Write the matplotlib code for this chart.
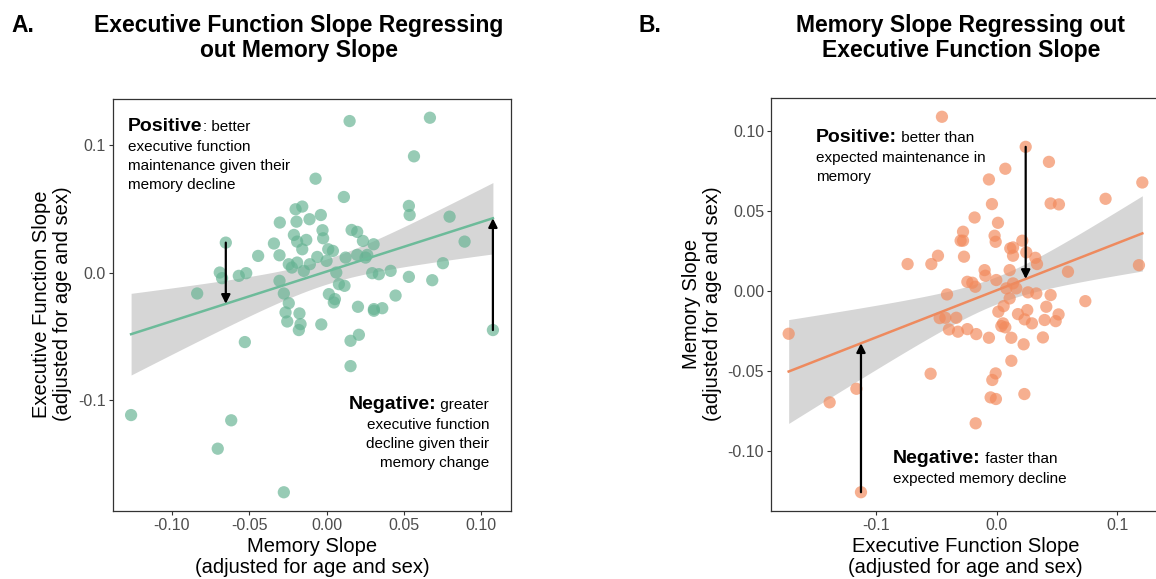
import numpy as np
import matplotlib
matplotlib.use("Agg")
import matplotlib.pyplot as plt
from matplotlib.offsetbox import TextArea, HPacker, VPacker, AnnotationBbox

plt.rcParams['font.family'] = ['Liberation Sans', 'DejaVu Sans']

# Panel A: memory slope (x) vs executive function slope (y)
mem_slope_a = [0.0149, 0.0668, 0.0565, -0.0071, 0.0112, -0.0200, -0.0157, 0.0532, 0.0537, -0.0037,
               -0.0110, 0.0795, -0.0302, -0.0194, -0.0026, -0.0211, 0.0162, 0.0198, -0.0022, -0.0651,
               -0.0190, -0.0131, -0.0340, 0.0235, 0.0304, 0.0892, -0.0157, 0.0011, 0.0041, -0.0442,
               -0.0304, -0.0060, 0.0000, 0.0123, 0.0198, 0.0252, 0.0263, -0.0244, -0.0190, -0.0224,
               -0.0108, -0.0147, 0.0752, -0.0690, -0.0675, -0.0567, -0.0519, 0.0063, 0.0295, 0.0338,
               0.0414, 0.0532, 0.0683, -0.0304, 0.0080, 0.0116, -0.0836, -0.0276, 0.0015, 0.0054,
               0.0047, 0.0446, -0.0244, 0.0203, 0.0306, 0.0306, 0.0360, -0.0265, -0.0175, -0.0254,
               -0.0168, -0.0179, -0.0034, 0.1075, -0.0528, 0.0155, 0.0209, 0.0155, -0.1263, -0.0616,
               -0.0703, -0.0276]
ef_slope_a = [0.1185, 0.1211, 0.0909, 0.0734, 0.0591, 0.0495, 0.0516, 0.0521, 0.0450, 0.0450,
              0.0417, 0.0437, 0.0391, 0.0398, 0.0331, 0.0294, 0.0333, 0.0318, 0.0268, 0.0234,
              0.0242, 0.0255, 0.0227, 0.0247, 0.0221, 0.0242, 0.0182, 0.0182, 0.0169, 0.0130,
              0.0135, 0.0122, 0.0091, 0.0117, 0.0138, 0.0117, 0.0138, 0.0065, 0.0078, 0.0039,
              0.0065, 0.0013, 0.0073, 0.0000, -0.0044, -0.0026, -0.0005, 0.0000, -0.0005, -0.0013,
              0.0013, -0.0034, -0.0060, -0.0065, -0.0091, -0.0104, -0.0164, -0.0164, -0.0169, -0.0208,
              -0.0234, -0.0180, -0.0240, -0.0268, -0.0286, -0.0299, -0.0279, -0.0312, -0.0320, -0.0383,
              -0.0404, -0.0450, -0.0406, -0.0450, -0.0544, -0.0534, -0.0487, -0.0732, -0.1115, -0.1156,
              -0.1378, -0.1719]
arrows_a = [19, 73]  # indices of the highlighted residuals

# Panel B: executive function slope (x) vs memory slope (y)
ef_slope_b = [-0.0454, 0.0241, 0.0434, 0.0072, -0.0064, 0.1209, 0.0904, -0.0039, 0.0448, 0.0517,
              -0.0183, 0.0011, -0.0279, -0.0017, -0.0008, -0.0299, -0.0279, 0.0213, 0.0113, 0.0136,
              0.0246, -0.0487, -0.0271, 0.0136, 0.0321, -0.0739, -0.0542, 0.0335, 0.1181, 0.0108,
              -0.0100, -0.0094, 0.0592, -0.0243, -0.0202, -0.0177, -0.0003, 0.0136, 0.0163, 0.0080,
              0.0260, 0.0329, -0.0412, 0.0448, 0.0108, 0.0736, 0.0058, 0.0014, 0.0412, 0.0177,
              0.0254, 0.0514, -0.0473, -0.0426, -0.0335, 0.0232, 0.0293, 0.0398, 0.0490, 0.0039,
              0.0072, 0.0053, -0.0396, -0.0321, -0.0243, -0.0169, -0.0064, 0.0122, 0.0384, 0.0224,
              -0.1726, 0.0122, -0.0548, -0.0008, -0.0036, -0.1164, -0.1386, -0.0050, -0.0006, 0.0230,
              -0.0174, -0.1126]
mem_slope_b = [0.1088, 0.0900, 0.0806, 0.0763, 0.0696, 0.0677, 0.0575, 0.0542, 0.0546, 0.0540,
               0.0458, 0.0425, 0.0369, 0.0344, 0.0306, 0.0313, 0.0313, 0.0313, 0.0265, 0.0271,
               0.0240, 0.0219, 0.0213, 0.0219, 0.0206, 0.0167, 0.0167, 0.0167, 0.0160, 0.0129,
               0.0129, 0.0094, 0.0119, 0.0056, 0.0050, 0.0025, 0.0067, 0.0046, 0.0015, 0.0015,
               -0.0010, -0.0017, -0.0023, -0.0027, -0.0048, -0.0065, -0.0096, -0.0131, -0.0100, -0.0146,
               -0.0121, -0.0148, -0.0171, -0.0169, -0.0169, -0.0179, -0.0204, -0.0183, -0.0190, -0.0221,
               -0.0229, -0.0204, -0.0242, -0.0256, -0.0240, -0.0271, -0.0294, -0.0294, -0.0292, -0.0335,
               -0.0269, -0.0438, -0.0519, -0.0517, -0.0558, -0.0613, -0.0698, -0.0667, -0.0677, -0.0646,
               -0.0829, -0.1260]
arrows_b = [1, 81]

T_CRIT = 1.99


def fit_with_band(x, y, grid):
    """ OLS fit with 95% confidence band for the mean """
    slope, icpt = np.polyfit(x, y, 1)
    resid = y - (icpt + slope * x)
    s = np.sqrt(np.sum(resid ** 2) / (len(x) - 2))
    se = s * np.sqrt(1 / len(x) + (grid - x.mean()) ** 2 / np.sum((x - x.mean()) ** 2))
    yhat = icpt + slope * grid
    return slope, icpt, yhat - T_CRIT * se, yhat + T_CRIT * se


def add_note(ax, xy, head, first, lines, align):
    """ Bold lead word followed by regular text, stacked in lines """
    top = HPacker(children=[TextArea(head, textprops=dict(fontsize=14, fontweight='bold')),
                            TextArea(first, textprops=dict(fontsize=11))],
                  align='baseline', pad=0, sep=0)
    rows = [top] + [TextArea(t, textprops=dict(fontsize=11)) for t in lines]
    box = VPacker(children=rows, align=align, pad=0, sep=3.6)
    ab = AnnotationBbox(box, xy, xycoords='axes fraction',
                        box_alignment=(0 if align == 'left' else 1, 1),
                        frameon=False, pad=0, annotation_clip=False)
    ax.add_artist(ab)


def scatter_panel(ax, x, y, arrows, point_color, line_color, xticks, xfmt, yticks, yfmt):
    x = np.asarray(x)
    y = np.asarray(y)
    grid = np.linspace(x.min(), x.max(), 200)
    slope, icpt, lo, hi = fit_with_band(x, y, grid)

    ax.fill_between(grid, lo, hi, color='#999999', alpha=0.4, lw=0, zorder=1)
    ax.scatter(x, y, s=78, color=point_color, alpha=0.68, edgecolors='none', zorder=2)
    ax.plot(grid, icpt + slope * grid, color=line_color, lw=1.8, zorder=3)

    for i in arrows:
        ax.annotate('', xy=(x[i], icpt + slope * x[i]), xytext=(x[i], y[i]),
                    arrowprops=dict(arrowstyle='-|>', color='black', lw=1.6,
                                    mutation_scale=13, shrinkA=0, shrinkB=0),
                    zorder=4)

    xpad = 0.05 * (x.max() - x.min())
    ypad = 0.05 * (y.max() - y.min())
    ax.set_xlim(x.min() - xpad, x.max() + xpad)
    ax.set_ylim(y.min() - ypad, y.max() + ypad)

    ax.set_xticks(xticks, [xfmt % v for v in xticks])
    ax.set_yticks(yticks, [yfmt % v for v in yticks])
    ax.tick_params(colors='#333333', labelcolor='#4D4D4D', labelsize=11.5,
                   length=3, width=0.8, pad=2)
    for sp in ax.spines.values():
        sp.set_color('#333333')
        sp.set_linewidth(0.9)


fig = plt.figure(figsize=(11.56, 5.79), dpi=100)
W, H = 1156, 579

ax_a = fig.add_axes([113 / W, 68 / H, 398 / W, 412 / H])
ax_b = fig.add_axes([771 / W, 68 / H, 389 / W, 413 / H])

scatter_panel(ax_a, mem_slope_a, ef_slope_a, arrows_a, '#66B393', '#6DBB9A',
              [-0.10, -0.05, 0.0, 0.05, 0.10], '%.2f', [-0.1, 0.0, 0.1], '%.1f')
scatter_panel(ax_b, ef_slope_b, mem_slope_b, arrows_b, '#F28A5C', '#EE8A5E',
              [-0.1, 0.0, 0.1], '%.1f', [-0.10, -0.05, 0.0, 0.05, 0.10], '%.2f')

add_note(ax_a, (0.038, 0.955), 'Positive', ': better',
         ['executive function', 'maintenance given their', 'memory decline'], 'left')
add_note(ax_a, (0.945, 0.278), 'Negative:', ' greater',
         ['executive function', 'decline given their', 'memory change'], 'right')
add_note(ax_b, (0.116, 0.925), 'Positive:', ' better than',
         ['expected maintenance in', 'memory'], 'left')
add_note(ax_b, (0.314, 0.147), 'Negative:', ' faster than',
         ['expected memory decline'], 'left')

ax_a.set_xlabel('Memory Slope\n(adjusted for age and sex)', fontsize=14.5, linespacing=1.1, labelpad=3)
ax_b.set_xlabel('Executive Function Slope\n(adjusted for age and sex)', fontsize=14.5, linespacing=1.1, labelpad=3)

fig.text(52 / W, 1 - 304 / H, 'Executive Function Slope\n(adjusted for age and sex)',
         rotation=90, ha='center', va='center', fontsize=14.5, linespacing=1.1)
fig.text(702 / W, 1 - 304 / H, 'Memory Slope\n(adjusted for age and sex)',
         rotation=90, ha='center', va='center', fontsize=14.5, linespacing=1.1)

# panel letters and titles
fig.text(11 / W, 1 - 25 / H, 'A.', fontsize=16.5, fontweight='bold', va='center')
fig.text(639 / W, 1 - 25 / H, 'B.', fontsize=16.5, fontweight='bold', va='center')
fig.text(299 / W, 1 - 38 / H, 'Executive Function Slope Regressing\nout Memory Slope',
         fontsize=16.5, fontweight='bold', ha='center', va='center', linespacing=1.15)
fig.text(961 / W, 1 - 38 / H, 'Memory Slope Regressing out\nExecutive Function Slope',
         fontsize=16.5, fontweight='bold', ha='center', va='center', linespacing=1.15)

fig.savefig('out.png', dpi=100)
